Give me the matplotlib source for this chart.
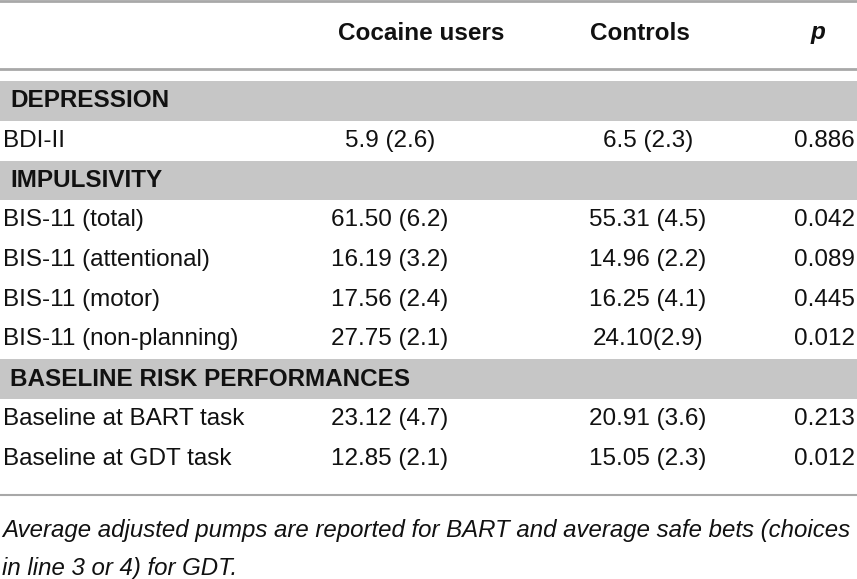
import matplotlib
matplotlib.use("Agg")
import matplotlib.pyplot as plt

# ---- data ----
col_headers = ["Cocaine users", "Controls", "p"]
sections = ["DEPRESSION", "IMPULSIVITY", "BASELINE RISK PERFORMANCES"]
section_rows = [
    ["BDI-II"],
    ["BIS-11 (total)", "BIS-11 (attentional)", "BIS-11 (motor)", "BIS-11 (non-planning)"],
    ["Baseline at BART task", "Baseline at GDT task"],
]
cocaine_vals = ["5.9 (2.6)", "61.50 (6.2)", "16.19 (3.2)", "17.56 (2.4)", "27.75 (2.1)",
                "23.12 (4.7)", "12.85 (2.1)"]
control_vals = ["6.5 (2.3)", "55.31 (4.5)", "14.96 (2.2)", "16.25 (4.1)", "24.10(2.9)",
                "20.91 (3.6)", "15.05 (2.3)"]
p_vals = ["0.886", "0.042", "0.089", "0.445", "0.012", "0.213", "0.012"]
footnote = ["Average adjusted pumps are reported for BART and average safe bets (choices",
            "in line 3 or 4) for GDT."]

W, H = 857, 579
fig = plt.figure(figsize=(W / 100, H / 100), dpi=100)
ax = fig.add_axes([0, 0, 1, 1])
ax.set_xlim(0, W)
ax.set_ylim(H, 0)
ax.axis("off")

FONT = "Liberation Sans"
FS = 17.5
band_col = "#c6c6c6"
line_col = "#a8a8a8"
txt = "#111111"

# rules
ax.axhline(1, color=line_col, lw=2)
ax.axhline(69, color=line_col, lw=2)
ax.axhline(495, color=line_col, lw=1.5)

# header
x_coc_h, x_con_h, x_p_h = 421, 640, 818
ax.text(x_coc_h, 33, col_headers[0], ha="center", va="center", fontsize=FS,
        fontweight="bold", family=FONT, color=txt)
ax.text(x_con_h, 33, col_headers[1], ha="center", va="center", fontsize=FS,
        fontweight="bold", family=FONT, color=txt)
ax.text(x_p_h, 33, col_headers[2], ha="center", va="center", fontsize=FS,
        fontweight="bold", style="italic", family=FONT, color=txt)

x_coc, x_con, x_p = 390, 648, 855
row_h = 39.75
y = 81
k = 0
for s, rows in zip(sections, section_rows):
    ax.axhspan(y, y + row_h, color=band_col, lw=0)
    ax.text(10, y + row_h / 2, s, ha="left", va="center", fontsize=FS,
            fontweight="bold", family=FONT, color=txt)
    y += row_h
    for r in rows:
        yc = y + row_h / 2
        ax.text(3, yc, r, ha="left", va="center", fontsize=FS, family=FONT, color=txt)
        ax.text(x_coc, yc, cocaine_vals[k], ha="center", va="center", fontsize=FS,
                family=FONT, color=txt)
        ax.text(x_con, yc, control_vals[k], ha="center", va="center", fontsize=FS,
                family=FONT, color=txt)
        ax.text(x_p, yc, p_vals[k], ha="right", va="center", fontsize=FS,
                family=FONT, color=txt)
        k += 1
        y += row_h

for i, line in enumerate(footnote):
    ax.text(2, 537 + i * 38.5, line, ha="left", va="baseline", fontsize=17.3,
            style="italic", family=FONT, color=txt)

fig.savefig("out.png", dpi=100)
